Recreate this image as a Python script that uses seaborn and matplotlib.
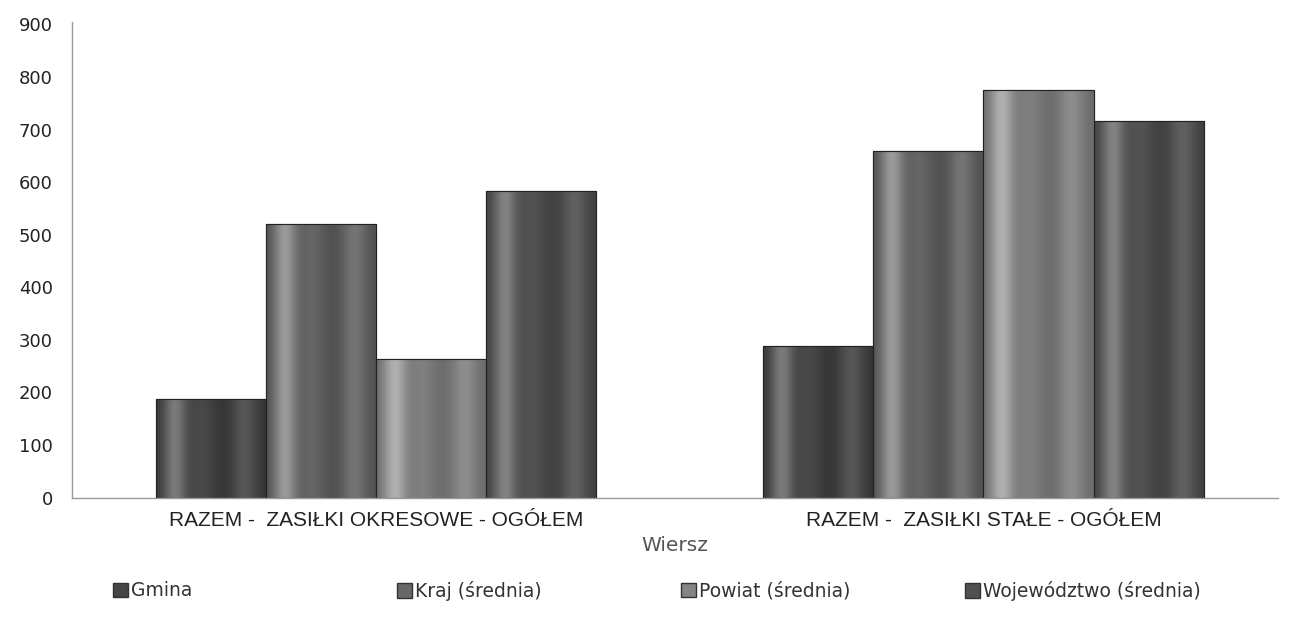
import numpy as np
import pandas as pd
import seaborn as sns
import matplotlib.pyplot as plt
from matplotlib.colors import to_rgb
from matplotlib.patches import Patch

# Data
categories = ['RAZEM -  ZASIŁKI OKRESOWE - OGÓŁEM', 'RAZEM -  ZASIŁKI STAŁE - OGÓŁEM']
series = ['Gmina', 'Kraj (średnia)', 'Powiat (średnia)', 'Województwo (średnia)']
gmina = [188, 288]
kraj = [520, 660]
powiat = [263, 776]
wojewodztwo = [583, 716]
y_ticks = [0, 100, 200, 300, 400, 500, 600, 700, 800, 900]

# flat colour per series (legend) and dark/light tones for the shading
colors = ['#454545', '#686868', '#858585', '#505050']
shade = {
    '#454545': ('#333333', '#7a7a7a'),
    '#686868': ('#4e4e4e', '#9a9a9a'),
    '#858585': ('#6a6a6a', '#b0b0b0'),
    '#505050': ('#3e3e3e', '#828282'),
}

df = pd.DataFrame({
    'Wiersz': categories * 4,
    'seria': [s for s in series for _ in categories],
    'wartosc': gmina + kraj + powiat + wojewodztwo,
})

sns.set_theme(style='white')
plt.rcParams['font.family'] = ['DejaVu Sans']

fig = plt.figure(figsize=(12.91, 6.22), dpi=100)
ax = fig.add_axes([0.056, 0.2, 0.934, 0.765])

sns.barplot(data=df, x='Wiersz', y='wartosc', hue='seria', hue_order=series,
            palette=colors, width=0.725, gap=0, ax=ax, legend=False,
            edgecolor='#222222', linewidth=0.8)

ax.set_xlim(-0.5, 1.485)
ax.set_ylim(0, 905)

# cylinder-like shading: light band near the left, dark middle, soft glow right
t = np.linspace(0, 1, 240)
profile = (np.exp(-((t - 0.17) / 0.11) ** 2)
           + 0.5 * np.exp(-((t - 0.80) / 0.12) ** 2)
           + 0.3 * np.exp(-((t - 0.42) / 0.12) ** 2))
profile = profile / profile.max()
for bar in list(ax.patches):
    h = bar.get_height()
    if h <= 0:
        continue
    fc = np.array(bar.get_facecolor()[:3])
    key = min(shade, key=lambda k: np.abs(np.array(to_rgb(k)) - fc).sum())
    dark, light = (np.array(to_rgb(c)) for c in shade[key])
    img = dark[None, None, :] + (light - dark)[None, None, :] * profile[None, :, None]
    x0, y0, w = bar.get_x(), bar.get_y(), bar.get_width()
    im = ax.imshow(img, extent=[x0, x0 + w, y0, y0 + h], aspect='auto',
                   interpolation='bilinear', zorder=bar.get_zorder() + 0.1)
    im.set_clip_path(bar)
    ax.add_patch(plt.Rectangle((x0, y0), w, h, fill=False, edgecolor='#222222',
                               linewidth=0.8, zorder=bar.get_zorder() + 0.2))

ax.set_yticks(y_ticks)
ax.tick_params(axis='y', length=0, pad=14, labelsize=13, labelcolor='#222222')
ax.tick_params(axis='x', length=0, pad=10, labelsize=15, labelcolor='#222222')
for lab in ax.get_xticklabels():
    lab.set_family('Liberation Sans')

ax.set_xlabel('Wiersz', fontsize=14.5, color='#555555', labelpad=4)
ax.set_ylabel('')

for side in ['top', 'right']:
    ax.spines[side].set_visible(False)
for side in ['left', 'bottom']:
    ax.spines[side].set_color('#9a9a9a')
    ax.spines[side].set_linewidth(1.0)

# legend entries spread across the bottom
for i, (name, c) in enumerate(zip(series, colors)):
    leg = fig.legend(handles=[Patch(facecolor=c, edgecolor='#333333', label=name)],
                     loc='center left', bbox_to_anchor=(0.08 + i * 0.22, 0.05),
                     frameon=False, fontsize=13.5, handlelength=0.8, handleheight=0.8,
                     handletextpad=0.2, borderpad=0)
    for txt in leg.get_texts():
        txt.set_color('#333333')

fig.savefig('out.png', dpi=100)
